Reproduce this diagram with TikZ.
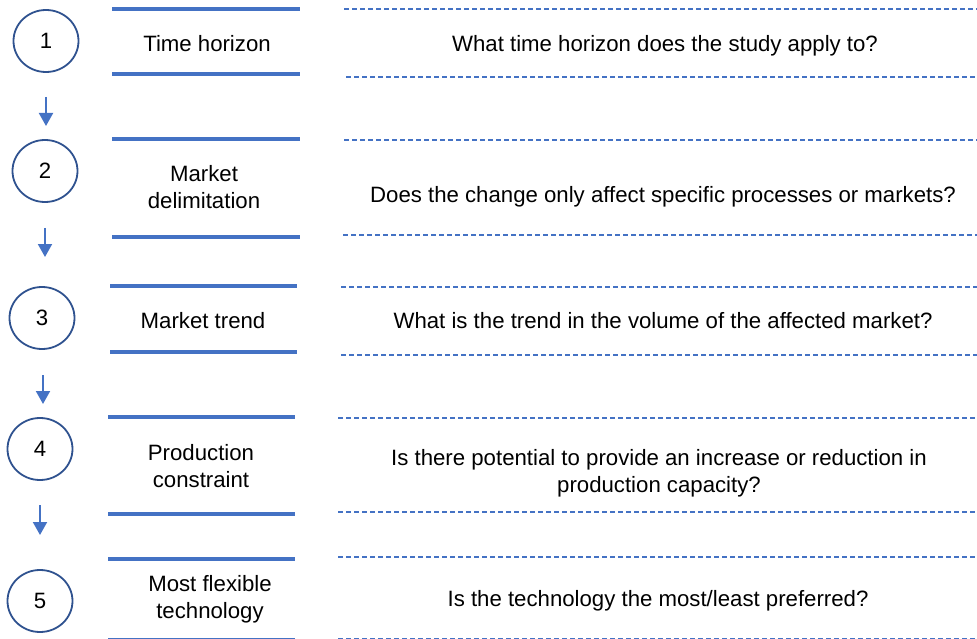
\documentclass[tikz,border=0pt]{standalone}
\usepackage{fontspec}
\setmainfont{Liberation Sans}
\usetikzlibrary{arrows.meta,shapes.geometric}
\definecolor{lineblue}{HTML}{4472C4}
\definecolor{ringblue}{HTML}{2F528F}
\begin{document}
\begin{tikzpicture}[x=1pt,y=-1pt,
  every node/.style={inner sep=0pt,font=\fontsize{22.2}{27}\selectfont},
  stepnum/.style={ellipse,draw=ringblue,line width=1.8pt,minimum width=65pt,minimum height=62pt},
  steptext/.style={anchor=base,align=center},
  bar/.style={lineblue,line width=4pt},
  dashrule/.style={lineblue,line width=1.8pt,dash pattern=on 5pt off 3pt},
  flow/.style={lineblue,line width=2pt,-{Triangle[width=14pt,length=13pt]}}]
\useasboundingbox (0,0) rectangle (977,639);
\node [stepnum] (c1) at (46,41) {1};
\node [stepnum] (c2) at (45,171) {2};
\node [stepnum] (c3) at (42,318) {3};
\node [stepnum] (c4) at (40,449) {4};
\node [stepnum] (c5) at (40,601) {5};
\node [steptext] (t1) at (207,52) {Time horizon};
\node [steptext] (t2) at (204,209) {Market\\delimitation};
\node [steptext] (t3) at (203,328) {Market trend};
\node [steptext] (t4) at (201,487) {Production\\constraint};
\node [steptext] (t5) at (210,618) {Most flexible\\technology};
\node [steptext] (q1) at (665,52) {What time horizon does the study apply to?};
\node [steptext] (q2) at (663,203) {Does the change only affect specific processes or markets?};
\node [steptext] (q3) at (663,328) {What is the trend in the volume of the affected market?};
\node [steptext] (q4) at (659,492) {Is there potential to provide an increase or reduction in\\production capacity?};
\node [steptext] (q5) at (658,606) {Is the technology the most/least preferred?};
\coordinate (a1s) at (46,97);
\coordinate (a1e) at (46,126);
\coordinate (a2s) at (45,228);
\coordinate (a2e) at (45,257);
\coordinate (a3s) at (43,375);
\coordinate (a3e) at (43,404);
\coordinate (a4s) at (40,505);
\coordinate (a4e) at (40,535);
\draw [flow] (a1s) -- (a1e);
\draw [flow] (a2s) -- (a2e);
\draw [flow] (a3s) -- (a3e);
\draw [flow] (a4s) -- (a4e);
\draw [bar] (112,9) -- (300,9);
\draw [bar] (112,74) -- (300,74);
\draw [bar] (112,139) -- (300,139);
\draw [bar] (112,237) -- (300,237);
\draw [bar] (110,286) -- (297,286);
\draw [bar] (110,352) -- (297,352);
\draw [bar] (108,417) -- (295,417);
\draw [bar] (108,514) -- (295,514);
\draw [bar] (108,559) -- (295,559);
\draw [bar] (108,640) -- (295,640);
\draw [dashrule] (344,9) -- (977,9);
\draw [dashrule] (346,77) -- (977,77);
\draw [dashrule] (344,140) -- (977,140);
\draw [dashrule] (343,235) -- (977,235);
\draw [dashrule] (341,287) -- (977,287);
\draw [dashrule] (341,355) -- (977,355);
\draw [dashrule] (338,418) -- (977,418);
\draw [dashrule] (338,512) -- (977,512);
\draw [dashrule] (338,557) -- (977,557);
\draw [dashrule] (338,639) -- (977,639);
\end{tikzpicture}
\end{document}
